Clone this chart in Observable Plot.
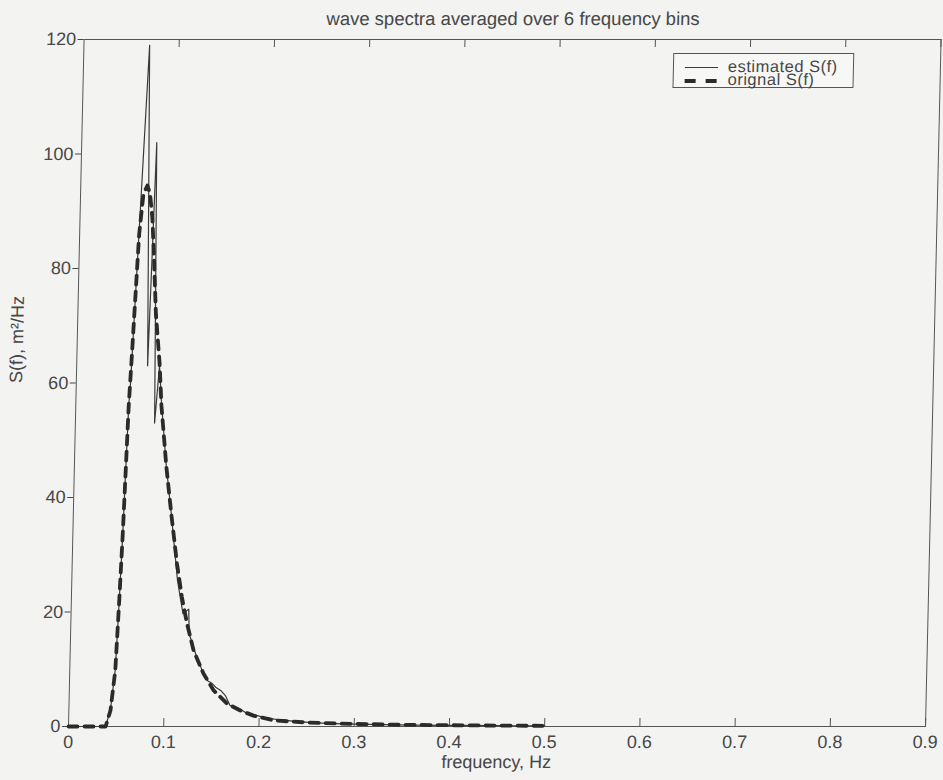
<!DOCTYPE html>
<html><head><meta charset="utf-8">
<script src="https://cdn.jsdelivr.net/npm/d3@7"></script>
<script src="https://cdn.jsdelivr.net/npm/@observablehq/plot@0.6"></script>
<style>
body{margin:0;background:#f3f3f2;font-family:"Liberation Sans",Arial,Helvetica,sans-serif;}
#wrap{position:relative;width:943px;height:780px;transform:skewX(-1.3deg);transform-origin:0 726px;}
#legend{position:absolute;left:658px;top:53px;width:179px;height:33px;border:1px solid #555;background:#f7f7f6;}
#legend svg{overflow:visible;display:block;}
</style></head><body><div id="wrap"><div id="legend"></div></div>
<script>
const title = "wave spectra averaged over 6 frequency bins";
const xLabel = "frequency, Hz";
const yLabel = "S(f), m²/Hz";
const seriesNames = ["estimated S(f)", "orignal S(f)"];
const xTicks = [0, 0.1, 0.2, 0.3, 0.4, 0.5, 0.6, 0.7, 0.8, 0.9];
const yTicks = [0, 20, 40, 60, 80, 100, 120];

const freqOriginal = [0, 0.039, 0.0437, 0.0478, 0.0502, 0.0523, 0.054, 0.0556, 0.058, 0.060, 0.0625, 0.066, 0.070, 0.073, 0.076, 0.079, 0.082, 0.087, 0.090, 0.0965, 0.103, 0.110, 0.116, 0.122, 0.1295, 0.1406, 0.1516, 0.166, 0.180, 0.194, 0.216, 0.25, 0.3, 0.35, 0.4, 0.45, 0.5];
const sOriginal = [0, 0, 2.8, 9.8, 21.5, 33, 44.7, 56, 66, 75, 86, 93, 94.5, 93, 88.8, 80.8, 72, 63.5, 56, 45.5, 37, 28.5, 22.6, 18, 13.3, 9.2, 6.3, 4.0, 2.8, 1.9, 1.05, 0.7, 0.45, 0.3, 0.22, 0.16, 0.12];

const freqEstimated = [0, 0.039, 0.0437, 0.0478, 0.0502, 0.0523, 0.054, 0.0556, 0.057, 0.069, 0.0745, 0.0788, 0.0832, 0.087, 0.090, 0.0965, 0.103, 0.111, 0.1175, 0.1235, 0.1245, 0.1318, 0.139, 0.145, 0.150, 0.154, 0.159, 0.164, 0.169, 0.175, 0.180, 0.186, 0.191, 0.198, 0.205, 0.216, 0.226, 0.24, 0.26, 0.28, 0.3, 0.33, 0.36, 0.4, 0.45, 0.5];
const sEstimated = [0, 0, 3, 10, 21.5, 33, 45, 56, 60, 119, 63, 102, 53, 63, 56.5, 45.5, 37, 25.5, 19.7, 20.5, 16.2, 12.7, 9.8, 8.0, 7.5, 6.8, 6.3, 5.4, 3.7, 3.4, 3.0, 2.4, 2.2, 1.9, 1.6, 1.3, 1.1, 0.85, 0.65, 0.5, 0.4, 0.32, 0.25, 0.2, 0.14, 0.1];

const W = 943, H = 780, mL = 68, mR = 18, mT = 39, mB = 54;
const frameH = H - mT - mB;
const ink = "#474747";
const font = "'Liberation Sans', Arial, Helvetica, sans-serif";

const original = freqOriginal.map((f, i) => ({f, s: sOriginal[i]}));
const estimated = freqEstimated.map((f, i) => ({f, s: sEstimated[i]}));

const chart = Plot.plot({
  width: W, height: H,
  marginLeft: mL, marginRight: mR, marginTop: mT, marginBottom: mB,
  style: {background: "transparent", fontSize: "18px", fontFamily: font, color: ink},
  x: {domain: [0, 0.9]},
  y: {domain: [0, 120]},
  marks: [
    Plot.frame({stroke: "#555"}),
    Plot.axisY(yTicks, {tickSize: 6, tickPadding: 2, label: null, tickFormat: d => String(d), fontSize: 18}),
    Plot.axisX(xTicks, {tickSize: 0, tickPadding: 9, label: null, tickFormat: d => String(d), fontSize: 18}),
    Plot.tickX(xTicks.slice(1), {x: d => d, insetTop: frameH - 8, stroke: "#555"}),
    Plot.tickX(xTicks.slice(1), {x: d => d, insetBottom: frameH - 8, stroke: "#555"}),
    Plot.line(estimated, {x: "f", y: "s", stroke: "#3a3a3a", strokeWidth: 1.2}),
    Plot.line(original, {x: "f", y: "s", stroke: "#2b2b2b", strokeWidth: 3.8, strokeDasharray: "9,7"}),
    Plot.text([title], {frameAnchor: "top", dy: -15, lineAnchor: "bottom", fontSize: 18.5, fill: ink}),
    Plot.text([xLabel], {frameAnchor: "bottom", dy: 36, lineAnchor: "middle", fontSize: 18, fill: ink}),
    Plot.text([yLabel], {frameAnchor: "left", dx: -60, rotate: -90, fontSize: 18, fill: ink})
  ]
});
document.getElementById("wrap").prepend(chart);

const lg = document.getElementById("legend");
lg.innerHTML = `<svg width="179" height="33" style="font-family:${font};font-size:16.5px;letter-spacing:0.5px;fill:${ink}">
  <line x1="11" x2="44" y1="13.5" y2="13.5" stroke="#3a3a3a" stroke-width="1.2"/>
  <text x="54" y="18.5">${seriesNames[0]}</text>
  <line x1="11" x2="44" y1="27" y2="27" stroke="#2b2b2b" stroke-width="4" stroke-dasharray="11,10"/>
  <text x="54" y="31.5">${seriesNames[1]}</text>
</svg>`;
</script>
</body></html>
